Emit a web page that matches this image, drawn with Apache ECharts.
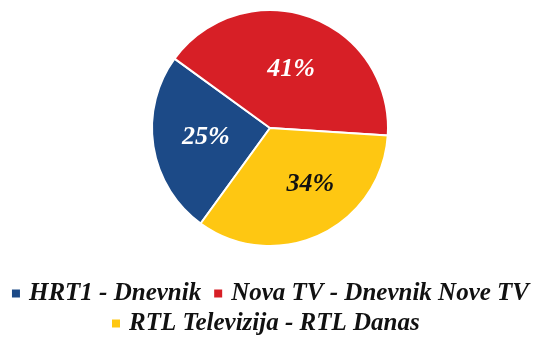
<!DOCTYPE html>
<html><head><meta charset="utf-8">
<script src="https://cdn.jsdelivr.net/npm/echarts@6/dist/echarts.min.js"></script>
<style>html,body{margin:0;padding:0;background:#fff}#c{width:539px;height:338px}</style>
</head><body><div id="c"></div>
<script>
const categories = ['HRT1 - Dnevnik', 'Nova TV - Dnevnik Nove TV', 'RTL Televizija - RTL Danas'];
const values = [25, 41, 34];
const colors = ['#1C4A87', '#D71F26', '#FEC712'];
const labelColors = ['#ffffff', '#ffffff', '#111111'];
const labelPads = [[0, 6, 0, 0], [4, 0, 0, 0], [16, 0, 0, 28]];

const legendText = {fontFamily: 'Liberation Serif', fontStyle: 'italic', fontWeight: 'bold', fontSize: 25, color: '#111', padding: [0, 0, 0, 3]};
const legendBase = {itemWidth: 10, itemHeight: 10, itemGap: 11, icon: 'rect', textStyle: legendText};

const chart = echarts.init(document.getElementById('c'), null, {renderer: 'canvas'});
chart.setOption({
  animation: false,
  legend: [
    Object.assign({top: 276, left: 'center', data: categories.slice(0, 2)}, legendBase),
    Object.assign({top: 306, left: 105, data: categories.slice(2)}, legendBase)
  ],
  series: [{
    type: 'pie',
    center: [270, 128],
    radius: [0, 118],
    startAngle: 234,
    clockwise: true,
    itemStyle: {borderColor: '#fff', borderWidth: 2},
    label: {position: 'inner', formatter: '{d}%', fontFamily: 'Liberation Serif', fontStyle: 'italic', fontWeight: 'bold', fontSize: 26},
    labelLine: {show: false},
    data: categories.map((n, i) => ({name: n, value: values[i], itemStyle: {color: colors[i]}, label: {color: labelColors[i], padding: labelPads[i]}}))
  }]
});
</script></body></html>
